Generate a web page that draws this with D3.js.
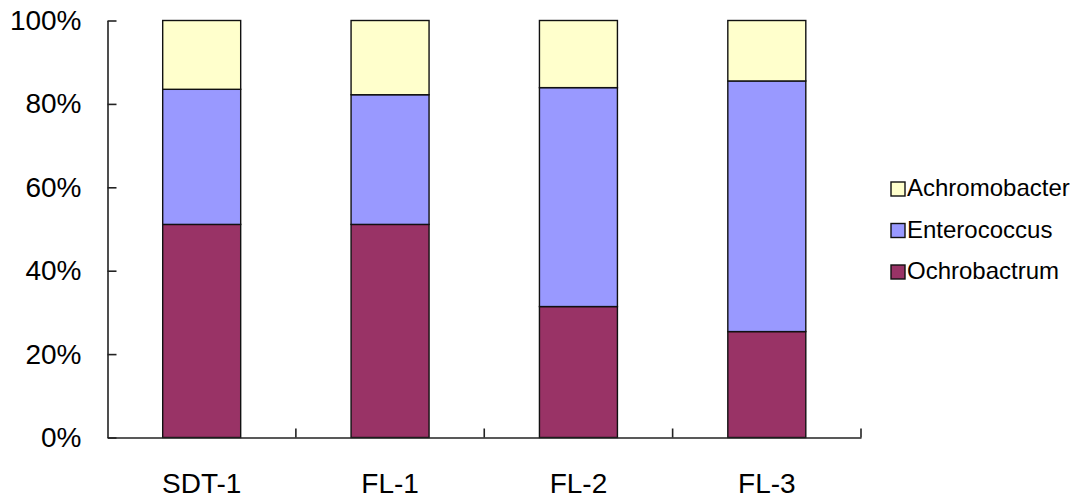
<!DOCTYPE html>
<html>
<head>
<meta charset="utf-8">
<script src="https://cdn.jsdelivr.net/npm/d3@7"></script>
<style>
  html, body { margin: 0; padding: 0; background: #fff; }
  svg { display: block; font-family: "Liberation Sans", Arial, sans-serif; }
</style>
</head>
<body>
<svg id="chart" width="1085" height="501"></svg>
<script>
// Samples along the x axis
const categories = ["SDT-1", "FL-1", "FL-2", "FL-3"];

// Relative abundance (%) of each genus per sample
const ochrobactrum  = [51.1, 51.1, 31.4, 25.4];
const enterococcus  = [32.4, 31.1, 52.5, 60.1];
const achromobacter = [16.5, 17.8, 16.1, 14.5];

// Stacking order, bottom to top, and legend order, top to bottom
const seriesNames = ["Ochrobactrum", "Enterococcus", "Achromobacter"];
const legendNames = ["Achromobacter", "Enterococcus", "Ochrobactrum"];
const seriesColors = ["#993366", "#9999FF", "#FFFFCC"];

// Y-axis tick values (fractions of the whole)
const yTicks = [0, 0.2, 0.4, 0.6, 0.8, 1.0];

const rows = categories.map((c, i) => ({
  category: c,
  Ochrobactrum: ochrobactrum[i],
  Enterococcus: enterococcus[i],
  Achromobacter: achromobacter[i]
}));

const svg = d3.select("#chart");

const plot = { left: 107.5, right: 861, top: 20.5, bottom: 437.5 };

const x = d3.scaleBand().domain(categories).range([plot.left, plot.right]).padding(0);
const y = d3.scaleLinear().domain([0, 1]).range([plot.bottom, plot.top]);
const color = d3.scaleOrdinal().domain(seriesNames).range(seriesColors);

const barWidth = x.bandwidth() * 0.414;

const stacked = d3.stack()
  .keys(seriesNames)
  .offset(d3.stackOffsetExpand)(rows);

// Stacked bars
svg.append("g")
  .selectAll("g")
  .data(stacked)
  .join("g")
    .attr("fill", d => color(d.key))
  .selectAll("rect")
  .data(d => d)
  .join("rect")
    .attr("x", d => x(d.data.category) + (x.bandwidth() - barWidth) / 2)
    .attr("y", d => y(d[1]))
    .attr("width", barWidth)
    .attr("height", d => y(d[0]) - y(d[1]))
    .attr("stroke", "#111")
    .attr("stroke-width", 1.4);

// Y axis: ticks point inward, labels on the left
const yAxis = svg.append("g")
  .attr("transform", `translate(${plot.left},0)`)
  .call(d3.axisLeft(y)
    .tickValues(yTicks)
    .tickFormat(d3.format(".0%"))
    .tickSizeInner(-9)
    .tickSizeOuter(0)
    .tickPadding(26));
yAxis.select(".domain").attr("stroke", "#222").attr("stroke-width", 1.6);
yAxis.selectAll(".tick line").attr("stroke", "#222").attr("stroke-width", 1.6);
yAxis.selectAll(".tick text")
  .attr("font-size", 28)
  .attr("font-family", "'Liberation Sans', Arial, sans-serif")
  .attr("fill", "#000");

// X axis: category labels centered under each bar
const xAxis = svg.append("g")
  .attr("transform", `translate(0,${plot.bottom})`)
  .call(d3.axisBottom(x).tickSize(0).tickPadding(36));
xAxis.select(".domain").attr("stroke", "#222").attr("stroke-width", 1.6);
xAxis.selectAll(".tick text")
  .attr("font-size", 28)
  .attr("font-family", "'Liberation Sans', Arial, sans-serif")
  .attr("fill", "#000");

// Category separators on the x axis, pointing up
svg.append("g")
  .selectAll("line")
  .data(categories)
  .join("line")
    .attr("x1", d => x(d) + x.bandwidth())
    .attr("x2", d => x(d) + x.bandwidth())
    .attr("y1", plot.bottom)
    .attr("y2", plot.bottom - 9)
    .attr("stroke", "#222")
    .attr("stroke-width", 1.6);

// Legend
const legend = svg.append("g").attr("transform", "translate(891,182)");
const item = legend.selectAll("g")
  .data(legendNames)
  .join("g")
    .attr("transform", (d, i) => `translate(0,${i * 41.5})`);
item.append("rect")
  .attr("width", 14)
  .attr("height", 14)
  .attr("fill", d => color(d))
  .attr("stroke", "#111")
  .attr("stroke-width", 1.4);
item.append("text")
  .attr("x", 16)
  .attr("y", 14)
  .attr("font-size", 24)
  .attr("fill", "#000")
  .text(d => d);
</script>
</body>
</html>
